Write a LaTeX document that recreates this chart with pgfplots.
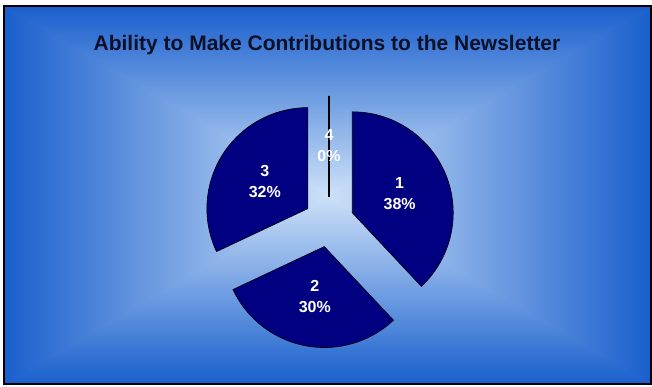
\documentclass[border=0pt]{standalone}
\usepackage{pgfplots}
\pgfplotsset{compat=1.18}
\usepackage{pgfplotstable}
\usepackage{fontspec}
\setmainfont{Liberation Sans}
\definecolor{navyslice}{RGB}{0,0,128}
\definecolor{titlecol}{RGB}{12,16,40}
% rectangular "from centre" gradient: edge (25,95,205) -> centre (205,225,248)
\pgfdeclarefunctionalshading{rectgrad}{\pgfpoint{-323.5pt}{-189pt}}{\pgfpoint{323.5pt}{189pt}}{}{
  188.3 div abs exch 322.3 div abs
  2 copy lt {exch} if pop
  dup 1 gt {pop 1} if
  dup dup
  -0.706 mul 0.804 add
  3 1 roll
  -0.509 mul 0.882 add
  exch
  -0.169 mul 0.973 add
}

\pgfplotstableread{
label value
1 38
2 30
3 32
4 0
}\piedata

\begin{document}
\begin{tikzpicture}
\pgfplotstablegetelem{0}{value}\of\piedata \pgfmathtruncatemacro\vA{\pgfplotsretval}
\pgfplotstablegetelem{1}{value}\of\piedata \pgfmathtruncatemacro\vB{\pgfplotsretval}
\pgfplotstablegetelem{2}{value}\of\piedata \pgfmathtruncatemacro\vC{\pgfplotsretval}
\pgfplotstablegetelem{3}{value}\of\piedata \pgfmathtruncatemacro\vD{\pgfplotsretval}
\pgfmathsetmacro\aA{90}
\pgfmathsetmacro\bA{\aA-3.6*\vA}
\pgfmathsetmacro\mA{(\aA+\bA)/2}
\pgfmathsetmacro\aB{\bA}
\pgfmathsetmacro\bB{\aB-3.6*\vB}
\pgfmathsetmacro\mB{(\aB+\bB)/2}
\pgfmathsetmacro\aC{\bB}
\pgfmathsetmacro\bC{\aC-3.6*\vC}
\pgfmathsetmacro\mC{(\aC+\bC)/2}
\pgfmathsetmacro\aD{\bC}
\pgfmathsetmacro\bD{\aD-3.6*\vD}
\pgfmathsetmacro\mD{(\aD+\bD)/2}
\begin{axis}[width=652pt,height=387pt,scale only axis,
  xmin=0,xmax=652,ymin=0,ymax=387,hide axis,clip=false,
  at={(0,0)},anchor=south west]
\fill[white] (axis cs:0,0) rectangle (axis cs:652,387);
\node[inner sep=0pt,outer sep=0pt] at (axis cs:327.5,192) {\pgfuseshading{rectgrad}};
\draw[black,line width=2pt] (axis cs:4,3) rectangle (axis cs:651,381);

\node[titlecol,font=\bfseries\fontsize{21}{25}\selectfont] at (axis cs:327,342) {Ability to Make Contributions to the Newsletter};

\filldraw[fill=navyslice,draw=black,line width=0.6pt] (axis cs:329,165) ++(\mA:25pt) -- ++(\aA:101pt) arc[start angle=\aA,end angle=\bA,radius=101pt] -- cycle;
\filldraw[fill=navyslice,draw=black,line width=0.6pt] (axis cs:329,165) ++(\mB:25pt) -- ++(\aB:101pt) arc[start angle=\aB,end angle=\bB,radius=101pt] -- cycle;
\filldraw[fill=navyslice,draw=black,line width=0.6pt] (axis cs:329,165) ++(\mC:25pt) -- ++(\aC:101pt) arc[start angle=\aC,end angle=\bC,radius=101pt] -- cycle;
\filldraw[fill=navyslice,draw=black,line width=1.3pt] (axis cs:329,165) ++(\mD:25pt) -- ++(\aD:101pt) arc[start angle=\aD,end angle=\bD,radius=101pt] -- cycle;

\path (axis cs:329,165) ++(\mA:76pt) node[white,font=\bfseries\fontsize{16}{21}\selectfont,align=center] {1\\\vA\%};
\path (axis cs:329,165) ++(\mB:76pt) node[white,font=\bfseries\fontsize{16}{21}\selectfont,align=center] {2\\\vB\%};
\path (axis cs:329,165) ++(\mC:76pt) node[white,font=\bfseries\fontsize{16}{21}\selectfont,align=center] {3\\\vC\%};
\path (axis cs:329,165) ++(\mD:76pt) node[white,font=\bfseries\fontsize{16}{21}\selectfont,align=center] {4\\\vD\%};
\end{axis}
\end{tikzpicture}
\end{document}
